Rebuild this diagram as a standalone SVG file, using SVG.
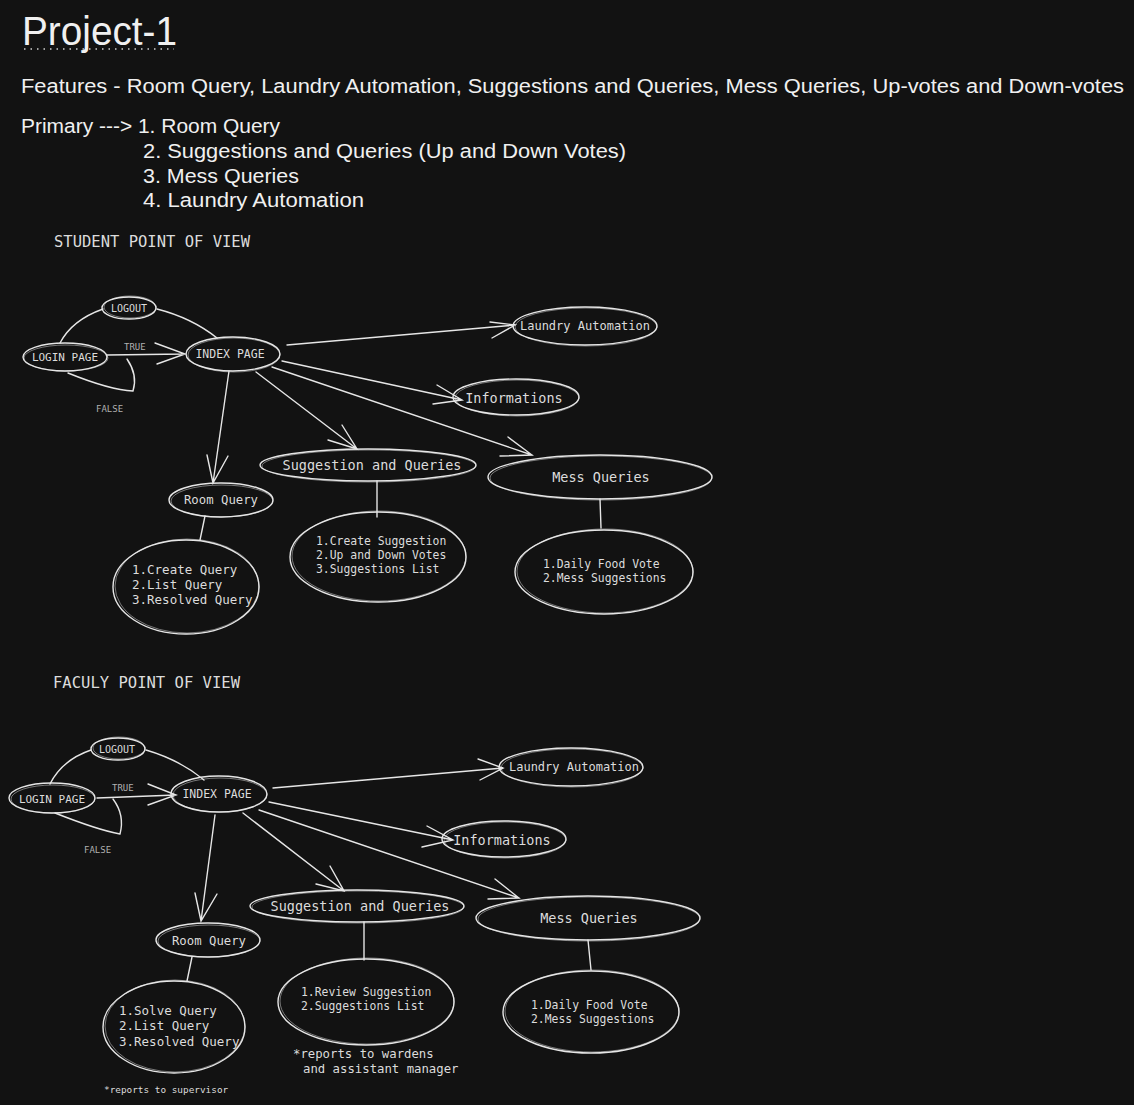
<svg xmlns="http://www.w3.org/2000/svg" width="1134" height="1105" viewBox="0 0 1134 1105">
<style>
.bg{fill:#121212}
.e{fill:none;stroke:#e6e6e6;stroke-width:1.4}
.e2{fill:none;stroke:#e6e6e6;stroke-width:0.8;opacity:0.6}
.c{fill:none;stroke:#e6e6e6;stroke-width:1.4;stroke-linecap:round}
.hand{font-family:"Liberation Sans","Noto Sans",sans-serif;fill:#f0f0f0}
.m{font-family:"DejaVu Sans Mono","Liberation Mono",monospace;fill:#dcdcdc}
.lbl{font-family:"DejaVu Sans Mono","Liberation Mono",monospace;fill:#b0b0b0;font-size:9px}
</style>
<rect class="bg" x="0" y="0" width="1134" height="1105"/>

<g id="header">
<text class="hand" x="22" y="45" font-size="40" textLength="155" lengthAdjust="spacingAndGlyphs">Project-1</text>
<line x1="24" y1="49" x2="174" y2="49" stroke="#cfcfcf" stroke-width="1.5" stroke-dasharray="1.5,5"/>
<text class="hand" x="21" y="93" font-size="20" textLength="1103" lengthAdjust="spacingAndGlyphs">Features - Room Query, Laundry Automation, Suggestions and Queries, Mess Queries, Up-votes and Down-votes</text>
<text class="hand" x="21" y="133" font-size="20" textLength="259" lengthAdjust="spacingAndGlyphs">Primary ---&gt; 1. Room Query</text>
<text class="hand" x="143" y="158" font-size="20" textLength="483" lengthAdjust="spacingAndGlyphs">2. Suggestions and Queries (Up and Down Votes)</text>
<text class="hand" x="143" y="183" font-size="20" textLength="156" lengthAdjust="spacingAndGlyphs">3. Mess Queries</text>
<text class="hand" x="143" y="207" font-size="20" textLength="221" lengthAdjust="spacingAndGlyphs">4. Laundry Automation</text>
<text class="m" x="54" y="247" font-size="15" textLength="196" lengthAdjust="spacingAndGlyphs">STUDENT POINT OF VIEW</text>
<text class="m" x="53" y="688" font-size="15" textLength="187" lengthAdjust="spacingAndGlyphs">FACULY POINT OF VIEW</text>
</g>

<!-- STUDENT connectors -->
<g id="connectors-student">
<path class="c" d="M60,343 Q72,320 103,309"/>
<path class="c" d="M157,309 Q192,318 217,338"/>
<path class="c" d="M107,355 L185,354 M155,343 L185,354 L157,364"/>
<text class="lbl" x="124" y="350">TRUE</text>
<path class="c" d="M68,373 Q110,390 133,391 Q138,375 127,359"/>
<text class="lbl" x="96" y="412">FALSE</text>
<path class="c" d="M287,345 L515,325 M490,322 L515,325 L492,338"/>
<path class="c" d="M282,361 L462,400 M437,385 L462,400 L433,404"/>
<path class="c" d="M272,367 L532,455 M508,437 L532,455 L500,456"/>
<path class="c" d="M256,372 L357,449 M342,425 L357,449 L328,440"/>
<path class="c" d="M229,371 L213,483 M207,455 L213,483 L228,456"/>
<path class="c" d="M205,516 L200,540"/>
<path class="c" d="M377,481 L377,517"/>
<path class="c" d="M600,499 L601,528"/>
</g>

<g id="s-logout"><ellipse class="e" cx="129" cy="308" rx="27" ry="11"/><ellipse class="e2" cx="130" cy="307" rx="26" ry="11"/><text class="m" x="129" y="312" font-size="10" text-anchor="middle">LOGOUT</text></g>
<g id="s-login"><ellipse class="e" cx="65" cy="357" rx="42" ry="14"/><ellipse class="e2" cx="66" cy="358" rx="42" ry="13"/><text class="m" x="65" y="361" font-size="11" text-anchor="middle">LOGIN PAGE</text></g>
<g id="s-index"><ellipse class="e" cx="233" cy="354" rx="47" ry="17"/><ellipse class="e2" cx="234" cy="355" rx="46" ry="17"/><text class="m" x="230" y="358" font-size="11.5" text-anchor="middle">INDEX PAGE</text></g>
<g id="s-laundry"><ellipse class="e" cx="585" cy="326" rx="72" ry="19"/><ellipse class="e2" cx="586" cy="327" rx="71" ry="19"/><text class="m" x="585" y="330" font-size="12" text-anchor="middle">Laundry Automation</text></g>
<g id="s-info"><ellipse class="e" cx="516" cy="397" rx="63" ry="18"/><ellipse class="e2" cx="517" cy="398" rx="62" ry="18"/><text class="m" x="514" y="403" font-size="13.5" text-anchor="middle">Informations</text></g>
<g id="s-mess"><ellipse class="e" cx="600" cy="477" rx="112" ry="22"/><ellipse class="e2" cx="601" cy="478" rx="111" ry="22"/><text class="m" x="601" y="482" font-size="13.5" text-anchor="middle">Mess Queries</text></g>
<g id="s-sugg"><ellipse class="e" cx="368" cy="465" rx="108" ry="16"/><ellipse class="e2" cx="369" cy="466" rx="107" ry="16"/><text class="m" x="372" y="470" font-size="13.5" text-anchor="middle">Suggestion and Queries</text></g>
<g id="s-room"><ellipse class="e" cx="221" cy="500" rx="52" ry="17"/><ellipse class="e2" cx="222" cy="501" rx="51" ry="16"/><text class="m" x="221" y="504" font-size="12.3" text-anchor="middle">Room Query</text></g>
<g id="s-room-list"><ellipse class="e" cx="186" cy="587" rx="73" ry="47"/><ellipse class="e2" cx="187" cy="586" rx="72" ry="47"/>
<text class="m" x="132" y="574" font-size="12.5">1.Create Query</text>
<text class="m" x="132" y="589" font-size="12.5">2.List Query</text>
<text class="m" x="132" y="604" font-size="12.5">3.Resolved Query</text></g>
<g id="s-sugg-list"><ellipse class="e" cx="378" cy="557" rx="88" ry="45"/><ellipse class="e2" cx="379" cy="556" rx="87" ry="45"/>
<text class="m" x="316" y="545" font-size="11.4">1.Create Suggestion</text>
<text class="m" x="316" y="559" font-size="11.4">2.Up and Down Votes</text>
<text class="m" x="316" y="573" font-size="11.4">3.Suggestions List</text></g>
<g id="s-mess-list"><ellipse class="e" cx="604" cy="572" rx="89" ry="42"/><ellipse class="e2" cx="605" cy="571" rx="88" ry="42"/>
<text class="m" x="543" y="568" font-size="11.4">1.Daily Food Vote</text>
<text class="m" x="543" y="582" font-size="11.4">2.Mess Suggestions</text></g>

<!-- FACULTY connectors -->
<g id="connectors-faculty">
<path class="c" d="M50,784 Q62,760 91,750"/>
<path class="c" d="M146,750 Q180,760 204,780"/>
<path class="c" d="M97,798 L176,795 M148,784 L176,795 L148,805"/>
<text class="lbl" x="112" y="791">TRUE</text>
<path class="c" d="M55,813 Q98,830 120,834 Q125,815 113,799"/>
<text class="lbl" x="84" y="853">FALSE</text>
<path class="c" d="M273,788 L503,768 M478,759 L503,768 L480,780"/>
<path class="c" d="M269,802 L453,840 M427,826 L453,840 L422,847"/>
<path class="c" d="M259,810 L519,898 M495,879 L519,898 L488,899"/>
<path class="c" d="M243,813 L344,891 M330,866 L344,891 L316,884"/>
<path class="c" d="M215,815 L201,921 M195,893 L201,921 L217,894"/>
<path class="c" d="M192,957 L187,981"/>
<path class="c" d="M364,922 L364,960"/>
<path class="c" d="M588,940 L591,970"/>
</g>

<g id="f-logout"><ellipse class="e" cx="118" cy="749" rx="27" ry="11"/><ellipse class="e2" cx="119" cy="748" rx="26" ry="11"/><text class="m" x="117" y="753" font-size="10" text-anchor="middle">LOGOUT</text></g>
<g id="f-login"><ellipse class="e" cx="52" cy="798" rx="43" ry="15"/><ellipse class="e2" cx="53" cy="799" rx="42" ry="14"/><text class="m" x="52" y="803" font-size="11" text-anchor="middle">LOGIN PAGE</text></g>
<g id="f-index"><ellipse class="e" cx="219" cy="794" rx="48" ry="18"/><ellipse class="e2" cx="220" cy="795" rx="47" ry="17"/><text class="m" x="217" y="798" font-size="11.5" text-anchor="middle">INDEX PAGE</text></g>
<g id="f-laundry"><ellipse class="e" cx="571" cy="767" rx="72" ry="19"/><ellipse class="e2" cx="572" cy="768" rx="71" ry="19"/><text class="m" x="574" y="771" font-size="12" text-anchor="middle">Laundry Automation</text></g>
<g id="f-info"><ellipse class="e" cx="504" cy="839" rx="62" ry="18"/><ellipse class="e2" cx="505" cy="840" rx="61" ry="18"/><text class="m" x="502" y="845" font-size="13.5" text-anchor="middle">Informations</text></g>
<g id="f-mess"><ellipse class="e" cx="588" cy="918" rx="112" ry="22"/><ellipse class="e2" cx="589" cy="919" rx="111" ry="22"/><text class="m" x="589" y="923" font-size="13.5" text-anchor="middle">Mess Queries</text></g>
<g id="f-sugg"><ellipse class="e" cx="357" cy="906" rx="107" ry="16"/><ellipse class="e2" cx="358" cy="907" rx="106" ry="16"/><text class="m" x="360" y="911" font-size="13.5" text-anchor="middle">Suggestion and Queries</text></g>
<g id="f-room"><ellipse class="e" cx="208" cy="940" rx="52" ry="17"/><ellipse class="e2" cx="209" cy="941" rx="51" ry="16"/><text class="m" x="209" y="945" font-size="12.3" text-anchor="middle">Room Query</text></g>
<g id="f-room-list"><ellipse class="e" cx="174" cy="1027" rx="71" ry="46"/><ellipse class="e2" cx="175" cy="1026" rx="70" ry="46"/>
<text class="m" x="119" y="1015" font-size="12.5">1.Solve Query</text>
<text class="m" x="119" y="1030" font-size="12.5">2.List Query</text>
<text class="m" x="119" y="1046" font-size="12.5">3.Resolved Query</text></g>
<g id="f-sugg-list"><ellipse class="e" cx="366" cy="1002" rx="88" ry="43"/><ellipse class="e2" cx="367" cy="1001" rx="87" ry="43"/>
<text class="m" x="301" y="996" font-size="11.4">1.Review Suggestion</text>
<text class="m" x="301" y="1010" font-size="11.4">2.Suggestions List</text></g>
<g id="f-mess-list"><ellipse class="e" cx="591" cy="1012" rx="88" ry="41"/><ellipse class="e2" cx="592" cy="1011" rx="87" ry="41"/>
<text class="m" x="531" y="1009" font-size="11.4">1.Daily Food Vote</text>
<text class="m" x="531" y="1023" font-size="11.4">2.Mess Suggestions</text></g>

<g id="notes">
<text class="m" x="293" y="1058" font-size="12.3">*reports to wardens</text>
<text class="m" x="303" y="1073" font-size="12.3">and assistant manager</text>
<text class="m" x="104" y="1093" font-size="9.4">*reports to supervisor</text>
</g>
</svg>
